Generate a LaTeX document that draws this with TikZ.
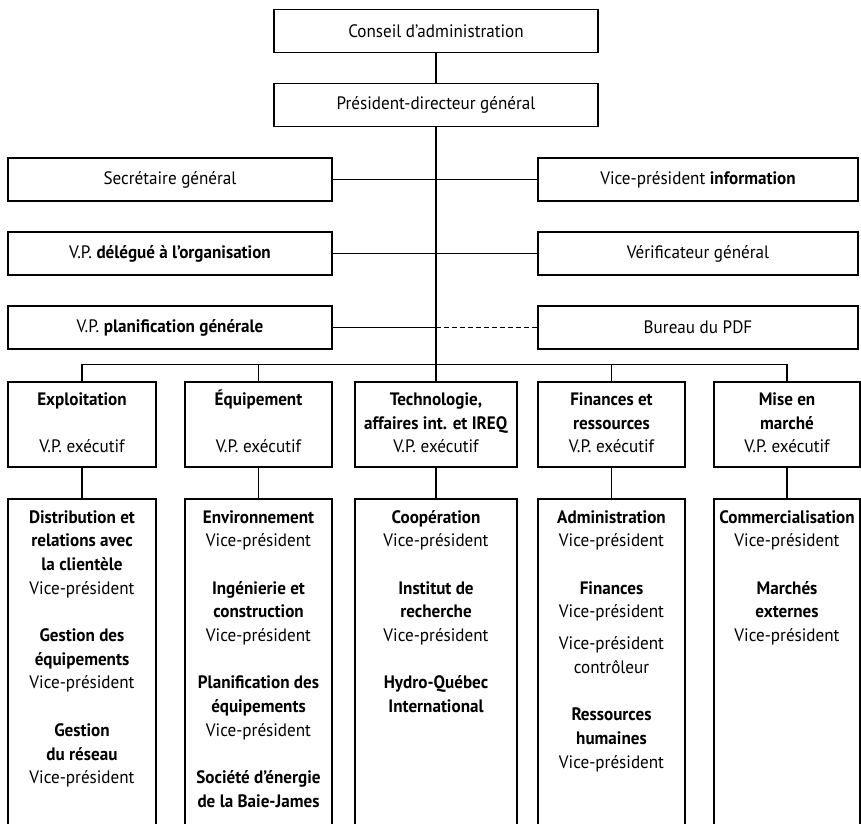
\documentclass[tikz,border=0pt]{standalone}
\usepackage{fontspec}
\setmainfont{PT Sans}[FakeStretch=0.95]
\newcommand\orgsize{\fontsize{18}{23.7}\selectfont}
\newlength\grpgap
\setlength\grpgap{23.7pt}

\begin{document}
\begin{tikzpicture}[x=1pt, y=-1pt, line width=1.2pt, font=\orgsize,
  box/.style={draw, inner sep=0pt, align=center, minimum height=43},
  headbox/.style={draw, inner sep=0pt, align=center, minimum height=85},
  colbox/.style={draw, inner sep=0pt, minimum height=331},
  coltext/.style={anchor=north, inner sep=0pt, align=center}]

  %% ════ direction ════
  \node[box, minimum width=324] (conseil) at (436,31)  {Conseil d’administration};
  \node[box, minimum width=324] (pdg)     at (436,105) {Président-directeur général};

  %% ════ boîtes latérales ════
  \node[box, minimum width=324] (secr)   at (170,179.5) {Secrétaire général};
  \node[box, minimum width=320] (info)   at (698,179.5) {Vice-président \textbf{information}};
  \node[box, minimum width=324] (deleg)  at (170,253.5) {V.P. \textbf{délégué à l’organisation}};
  \node[box, minimum width=320] (verif)  at (698,253.5) {Vérificateur général};
  \node[box, minimum width=324] (plan)   at (170,327.5) {V.P. \textbf{planification générale}};
  \node[box, minimum width=320] (bureau) at (698,327.5) {Bureau du PDF};

  %% ════ vice-présidences exécutives ════
  \node[headbox, minimum width=148] (exp)  at (82,424.5)  {\strut\textbf{Exploitation}\\[\grpgap]V.P. exécutif\strut};
  \node[headbox, minimum width=147] (equ)  at (258.5,424.5) {\strut\textbf{Équipement}\\[\grpgap]V.P. exécutif\strut};
  \node[headbox, minimum width=162] (tech) at (436,424.5) {\strut\textbf{Technologie,}\\\textbf{affaires int. et IREQ}\\V.P. exécutif\strut};
  \node[headbox, minimum width=147] (fin)  at (611.5,424.5) {\strut\textbf{Finances et}\\\textbf{ressources}\\V.P. exécutif\strut};
  \node[headbox, minimum width=146] (mise) at (787,424.5) {\strut\textbf{Mise en}\\\textbf{marché}\\V.P. exécutif\strut};

  %% ════ colonnes (ouvertes en bas) ════
  \node[colbox, minimum width=148] (expv)  at (82,664.5)    {};
  \node[colbox, minimum width=147] (equv)  at (258.5,664.5) {};
  \node[colbox, minimum width=162] (techv) at (436,664.5)   {};
  \node[colbox, minimum width=147] (finv)  at (611.5,664.5) {};
  \node[colbox, minimum width=146] (misev) at (787,664.5)   {};

  \node[coltext] (expt) at ([yshift=-7.4pt]expv.north)
    {\strut\textbf{Distribution et}\\\textbf{relations avec}\\\textbf{la clientèle}\\Vice-président\\[\grpgap]
     \textbf{Gestion des}\\\textbf{équipements}\\Vice-président\\[\grpgap]
     \textbf{Gestion}\\\textbf{du réseau}\\Vice-président};
  \node[coltext] (equt) at ([yshift=-7.4pt]equv.north)
    {\strut\textbf{Environnement}\\Vice-président\\[\grpgap]
     \textbf{Ingénierie et}\\\textbf{construction}\\Vice-président\\[\grpgap]
     \textbf{Planification des}\\\textbf{équipements}\\Vice-président\\[\grpgap]
     \textbf{Société d’énergie}\\\textbf{de la Baie-James}};
  \node[coltext] (techt) at ([yshift=-7.4pt]techv.north)
    {\strut\textbf{Coopération}\\Vice-président\\[\grpgap]
     \textbf{Institut de}\\\textbf{recherche}\\Vice-président\\[\grpgap]
     \textbf{Hydro-Québec}\\\textbf{International}};
  \node[coltext] (fint) at ([yshift=-7.4pt]finv.north)
    {\strut\textbf{Administration}\\Vice-président\\[\grpgap]
     \textbf{Finances}\\Vice-président\\[8pt]
     Vice-président\\contrôleur\\[\grpgap]
     \textbf{Ressources}\\\textbf{humaines}\\Vice-président};
  \node[coltext] (miset) at ([yshift=-7.4pt]misev.north)
    {\strut\textbf{Commercialisation}\\Vice-président\\[\grpgap]
     \textbf{Marchés}\\\textbf{externes}\\Vice-président};

  %% ════ liaisons ════
  \coordinate (bus)   at ([yshift=17pt]tech.north);
  \coordinate (planj) at (pdg.south |- plan.east);
  \draw (conseil) -- (pdg);
  \draw (pdg) -- (tech);
  \draw (secr) -- (info);
  \draw (deleg) -- (verif);
  \draw (plan) -- (planj);
  \draw[dash pattern=on 5pt off 3pt] (planj) -- (bureau);
  \draw (exp.north) |- (bus) -| (mise.north);
  \draw (equ.north) |- (bus);
  \draw (fin.north) |- (bus);
  \draw (exp) -- (expv);
  \draw (equ) -- (equv);
  \draw (tech) -- (techv);
  \draw (fin) -- (finv);
  \draw (mise) -- (misev);

  % page fixée aux dimensions de la référence
  \pgfresetboundingbox
  \path[use as bounding box] (0,0) rectangle (861,823);
\end{tikzpicture}
\end{document}
